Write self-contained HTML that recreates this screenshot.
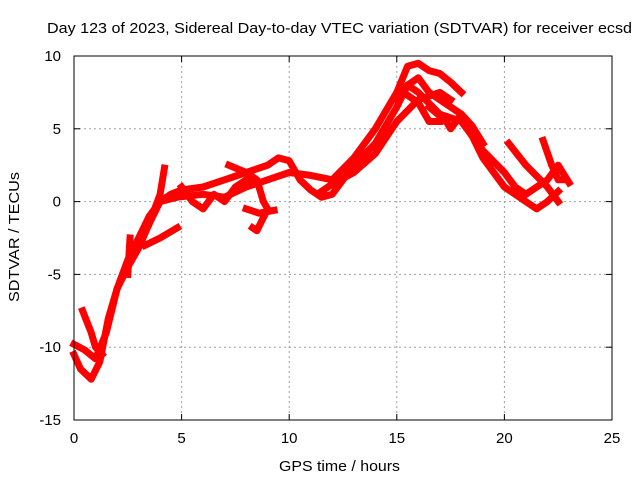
<!DOCTYPE html>
<html><head><meta charset="utf-8">
<style>
body{margin:0;background:#fff;}
svg{display:block;font-family:"Liberation Sans",sans-serif;}
</style></head>
<body>
<svg id="chart" width="640" height="480">
<text x="47" y="33" font-size="15" textLength="585" lengthAdjust="spacingAndGlyphs">Day 123 of 2023, Sidereal Day-to-day VTEC variation (SDTVAR) for receiver ecsd</text>
<text x="279" y="471" font-size="15" textLength="121" lengthAdjust="spacingAndGlyphs">GPS time / hours</text>
<text transform="translate(19,302) rotate(-90)" font-size="15" textLength="130" lengthAdjust="spacingAndGlyphs">SDTVAR / TECUs</text>
<g id="grid"></g><g id="ticks"></g><g id="series"></g>
<rect x="74" y="56" width="538" height="364" fill="none" stroke="#000" stroke-width="1"/>
</svg>
<script>
const xTicks=[0,5,10,15,20,25];
const yTicks=[-15,-10,-5,0,5,10];
const arcAx=[0,0.3,0.8,1.2,1.6,2,2.5,3,3.5,4,4.5,5,6,7,8,9,9.5,10,10.5,11,11.5,12,12.5,13,14,15,15.5,16,16.5,17,18,19,20,21,21.5,22,22.5];
const arcAy=[-10.5,-11.5,-12.2,-11,-8,-6,-4.5,-3.2,-1.5,0,0.5,0.8,1,1.5,2,2.5,3,2.8,1.5,0.8,0.3,0.5,1.5,2.5,4,6.5,8,8.5,7.5,7,6,3,1,0,-0.5,0,0.7];
const arcBx=[0,0.5,1,1.5,2,2.5,3,3.5,4,4.8,6,7,8,9,10,11,12,13,14,15,15.5,16,16.5,17,17.5,18];
const arcBy=[-9.8,-10.2,-10.8,-9,-6,-4,-2.5,-1,0,0.3,0.5,0.3,1,1.5,2,1.8,1.5,3,5,7.5,9.3,9.5,9,8.8,8.2,7.5];
const arcCx=[0.4,0.8,1,1.3];
const arcCy=[-7.5,-9,-10,-10.5];
const arcDx=[3.5,4,4.2];
const arcDy=[-1.5,0.5,2.3];
const arcEx=[3.3,4,4.8];
const arcEy=[-3,-2.5,-1.8];
const arcFx=[2.5,2.6];
const arcFy=[-5,-2.5];
const arcGx=[5,5.5,6,6.5,7,7.5,8,8.5];
const arcGy=[1,0,-0.5,0.5,0,1,1.5,1.3];
const arcHx=[15,15.5,16,17,18,19,20,20.5,21,22,22.5,23];
const arcHy=[7,8,7.5,6,5.5,3.5,2,1,0.5,1.5,2.5,1.3];
const arcIx=[20.2,21,22,22.5];
const arcIy=[4,2.5,1,0];
const arcJx=[21.8,22.2,22.5,22.8];
const arcJy=[4.2,2.5,1.5,1.5];
const arcKx=[16.5,17.3,17.5,18,18.5,19];
const arcKy=[6.5,5.5,5,6,5.2,4];
const arcLx=[7.2,8,8.5,8.8,9,8.5,8.3];
const arcLy=[2.5,2,1.5,0,-0.5,-2,-1.8];
const arcMx=[8,8.6,9.3];
const arcMy=[-0.5,-0.8,-0.6];
const arcNx=[15.5,16,16.5,17];
const arcNy=[7.3,6.8,5.5,5.5];
const arcOx=[11.5,12,13,14,15,16,17,17.5];
const arcOy=[0.7,1.2,2,3.3,5.5,7,7.5,7];
const arcs=[[arcAx,arcAy],[arcBx,arcBy],[arcCx,arcCy],[arcDx,arcDy],[arcEx,arcEy],[arcFx,arcFy],[arcGx,arcGy],[arcHx,arcHy],[arcIx,arcIy],[arcJx,arcJy],[arcKx,arcKy],[arcLx,arcLy],[arcMx,arcMy],[arcNx,arcNy],[arcOx,arcOy]];

const L=74,R=612,T=56,B=420;
const X=v=>L+(v-0)/25*(R-L);
const Y=v=>B-(v+15)/25*(B-T);
const NS="http://www.w3.org/2000/svg";
const g=document.getElementById('grid'),tk=document.getElementById('ticks'),se=document.getElementById('series');
function mk(tag,attrs,parent){const e=document.createElementNS(NS,tag);for(const k in attrs)e.setAttribute(k,attrs[k]);parent.appendChild(e);return e;}
xTicks.forEach(v=>{
  const x=X(v);
  if(v>0&&v<25){const l=mk('line',{x1:x,y1:T,x2:x,y2:B,stroke:'#a0a0a0','stroke-dasharray':'2,3'},g);
  
  }
  const t1=mk('line',{x1:x,y1:B,x2:x,y2:B-6,stroke:'#000'},tk);
  
  
  const t2=mk('line',{x1:x,y1:T,x2:x,y2:T+6,stroke:'#000'},tk);
  
  
  const t=mk('text',{x:x,y:B+23,'font-size':15,'text-anchor':'middle'},tk);t.textContent=v;
  
  
});
yTicks.forEach(v=>{
  const y=Y(v);
  if(v>-15&&v<10){const l=mk('line',{x1:L,y1:y,x2:R,y2:y,stroke:'#a0a0a0','stroke-dasharray':'2,3'},g);
  
  }
  const t1=mk('line',{x1:L,y1:y,x2:L+6,y2:y,stroke:'#000'},tk);
  
  
  const t2=mk('line',{x1:R,y1:y,x2:R-6,y2:y,stroke:'#000'},tk);
  
  
  const t=mk('text',{x:L-13,y:y+5,'font-size':15,'text-anchor':'end'},tk);t.textContent=v;
  
  
});
arcs.forEach(a=>{
  const pts=a[0].map((x,i)=>X(x).toFixed(1)+','+Y(a[1][i]).toFixed(1)).join(' ');
  const p=mk('polyline',{points:pts,fill:'none',stroke:'#ff0000','stroke-width':7,'stroke-linejoin':'round','stroke-linecap':'square'},se);
  
  
});
</script>
</body></html>
